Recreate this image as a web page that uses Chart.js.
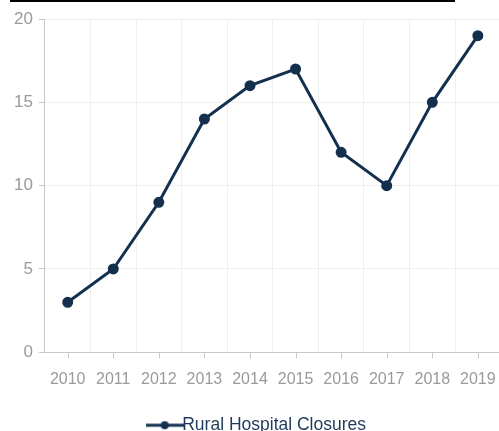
<!DOCTYPE html>
<html>
<head>
<meta charset="utf-8">
<script src="https://cdn.jsdelivr.net/npm/chart.js@4"></script>
<style>
  html, body { margin: 0; padding: 0; background: #fff; overflow: hidden; }
  #wrap { position: relative; width: 499px; height: 431px; overflow: hidden; }
  #rule { position: absolute; left: 10px; top: 0; width: 445px; height: 2px; background: #000; }
  #box { position: absolute; left: 0; top: 0; width: 514px; height: 444px; }
</style>
</head>
<body>
<div id="wrap">
  <div id="box"><canvas id="myChart"></canvas></div>
  <div id="rule"></div>
</div>
<script>
const years = ['2010', '2011', '2012', '2013', '2014', '2015', '2016', '2017', '2018', '2019'];
const closures = [3, 5, 9, 14, 16, 17, 12, 10, 15, 19];
const seriesName = 'Rural Hospital Closures';

const navy = '#14304f';

// legend marker: line with a dot
let marker = document.createElement('canvas');
marker.width = 38; marker.height = 10;
let m = marker.getContext('2d');
m.strokeStyle = navy; m.lineWidth = 3;
m.beginPath(); m.moveTo(0, 5); m.lineTo(38, 5); m.stroke();
m.fillStyle = navy;
m.beginPath(); m.arc(19, 5, 4, 0, Math.PI * 2); m.fill();

// tick marks under each category (grid lines sit between them)
const xTicks = {
  id: 'xTicks',
  afterDraw(chart) {
    let x = chart.scales.x, c = chart.ctx;
    c.save();
    c.strokeStyle = '#c8c8c8'; c.lineWidth = 1;
    years.forEach((y, i) => {
      let px = Math.round(x.getPixelForValue(i)) + 0.5;
      c.beginPath(); c.moveTo(px, x.top); c.lineTo(px, x.top + 6); c.stroke();
    });
    c.restore();
  }
};

let ctx = document.querySelector('#myChart').getContext('2d');
let myChart = new Chart(ctx, {
  type: 'line',
  data: {
    labels: years,
    datasets: [{
      label: seriesName,
      data: closures,
      borderColor: navy,
      backgroundColor: navy,
      borderWidth: 3,
      pointRadius: 4,
      pointBackgroundColor: navy,
      pointBorderColor: navy,
      fill: false,
      tension: 0
    }]
  },
  options: {
    responsive: true,
    maintainAspectRatio: false,
    animation: false,
    layout: { padding: { left: 8, right: 0, top: 19, bottom: 0 } },
    plugins: {
      tooltip: { enabled: false },
      legend: {
        position: 'bottom',
        labels: {
          usePointStyle: true,
          pointStyle: marker,
          color: '#1f3a5a',
          font: { family: 'Liberation Sans', size: 17.5 },
          padding: 9
        }
      }
    },
    scales: {
      x: {
        offset: true,
        grid: { offset: true, color: '#efefef', drawTicks: false },
        border: { color: '#c8c8c8' },
        ticks: { color: '#9a9a9a', font: { family: 'Liberation Sans', size: 16 }, padding: 18, maxRotation: 0 }
      },
      y: {
        min: 0, max: 20,
        grid: { color: '#efefef', tickColor: '#c8c8c8', tickLength: 6 },
        border: { color: '#c8c8c8' },
        ticks: { stepSize: 5, color: '#9a9a9a', font: { family: 'Liberation Sans', size: 17 }, padding: 6 }
      }
    }
  },
  plugins: [xTicks]
});
</script>
</body>
</html>
